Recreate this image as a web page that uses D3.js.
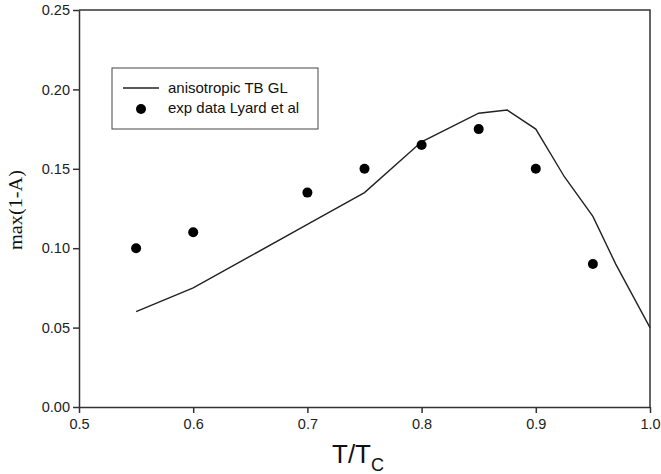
<!DOCTYPE html>
<html>

<head>
  <meta charset="utf-8" />
  <title>max(1-A) vs T/Tc</title>
  <style>
    body {
      margin: 0;
      background: white;
    }

    svg {
      display: block;
      font-family: "Liberation Sans", Arial, sans-serif;
    }

    .axis path,
    .axis line {
      stroke: #333;
      stroke-width: 1.5px;
    }

    .axis text {
      font-size: 14.5px;
      fill: #222;
    }
  </style>
</head>

<body>
  <svg></svg>

  <script src="https://d3js.org/d3.v7.min.js"></script>
  <script>
    // theory curve (anisotropic TB GL)
    var modelT = [0.55, 0.6, 0.65, 0.7, 0.75, 0.8, 0.85, 0.875, 0.9, 0.925, 0.95, 0.97, 1.0];
    var modelY = [0.06, 0.075, 0.095, 0.115, 0.135, 0.167, 0.185, 0.187, 0.175, 0.145, 0.12, 0.09, 0.05];

    // experiment (Lyard et al)
    var expT = [0.55, 0.6, 0.7, 0.75, 0.8, 0.85, 0.9, 0.95];
    var expY = [0.10, 0.11, 0.135, 0.15, 0.165, 0.175, 0.15, 0.09];

    var xTicks = [0.5, 0.6, 0.7, 0.8, 0.9, 1.0];
    var yTicks = [0.00, 0.05, 0.10, 0.15, 0.20, 0.25];

    var legendLabels = ["anisotropic TB GL", "exp data Lyard et al"];

    var width = 661,
      height = 474;
    var margin = { top: 10, right: 11, bottom: 67, left: 79 };
    var w = width - margin.left - margin.right,
      h = height - margin.top - margin.bottom;

    var svg = d3.select("svg")
      .attr("width", width)
      .attr("height", height);

    var g = svg.append("g")
      .attr("transform", "translate(" + margin.left + "," + margin.top + ")");

    var x = d3.scaleLinear().domain([0.5, 1.0]).range([0, w]);
    var y = d3.scaleLinear().domain([0, 0.25]).range([h, 0]);

    // frame (top + right)
    g.append("path")
      .attr("d", "M0,0H" + w + "V" + h)
      .attr("fill", "none")
      .attr("stroke", "#333")
      .attr("stroke-width", 1.5);

    g.append("g")
      .attr("class", "axis")
      .attr("transform", "translate(0," + h + ")")
      .call(d3.axisBottom(x).tickValues(xTicks).tickFormat(d3.format(".1f"))
        .tickSizeInner(6).tickSizeOuter(0).tickPadding(6));

    g.append("g")
      .attr("class", "axis")
      .call(d3.axisLeft(y).tickValues(yTicks).tickFormat(d3.format(".2f"))
        .tickSizeInner(6).tickSizeOuter(0).tickPadding(3));

    // curve
    var modelData = modelT.map((t, i) => ({ t: t, v: modelY[i] }));
    var line = d3.line().x(d => x(d.t)).y(d => y(d.v));
    g.append("path")
      .datum(modelData)
      .attr("d", line)
      .attr("fill", "none")
      .attr("stroke", "#222")
      .attr("stroke-width", 1.4);

    // points
    var expData = expT.map((t, i) => ({ t: t, v: expY[i] }));
    g.append("g")
      .selectAll("circle")
      .data(expData)
      .enter()
      .append("circle")
      .attr("cx", d => x(d.t))
      .attr("cy", d => y(d.v))
      .attr("r", 5)
      .attr("fill", "#000");

    // axis titles
    var xt = svg.append("text")
      .attr("x", 332)
      .attr("y", 463)
      .attr("font-size", 26)
      .attr("fill", "#111");
    xt.append("tspan").text("T/T");
    xt.append("tspan").attr("dy", 8).attr("font-size", 18).text("C");

    svg.append("text")
      .attr("transform", "translate(22,210) rotate(-90)")
      .attr("text-anchor", "middle")
      .attr("font-family", "'Liberation Serif', 'Times New Roman', serif")
      .attr("font-size", 18)
      .attr("textLength", 80)
      .attr("lengthAdjust", "spacingAndGlyphs")
      .attr("fill", "#111")
      .text("max(1-A)");

    // legend
    var leg = svg.append("g").attr("transform", "translate(112,68)");
    leg.append("rect")
      .attr("width", 206)
      .attr("height", 61)
      .attr("fill", "white")
      .attr("stroke", "#444")
      .attr("stroke-width", 1);
    leg.append("line")
      .attr("x1", 11).attr("x2", 47)
      .attr("y1", 20).attr("y2", 20)
      .attr("stroke", "#222")
      .attr("stroke-width", 1.4);
    leg.append("circle")
      .attr("cx", 29).attr("cy", 41)
      .attr("r", 5)
      .attr("fill", "#000");
    leg.selectAll("text.lab")
      .data(legendLabels)
      .enter()
      .append("text")
      .attr("class", "lab")
      .attr("x", 56)
      .attr("y", (d, i) => 25 + i * 20)
      .attr("font-size", 15)
      .attr("fill", "#111")
      .text(d => d);
  </script>
</body>

</html>
